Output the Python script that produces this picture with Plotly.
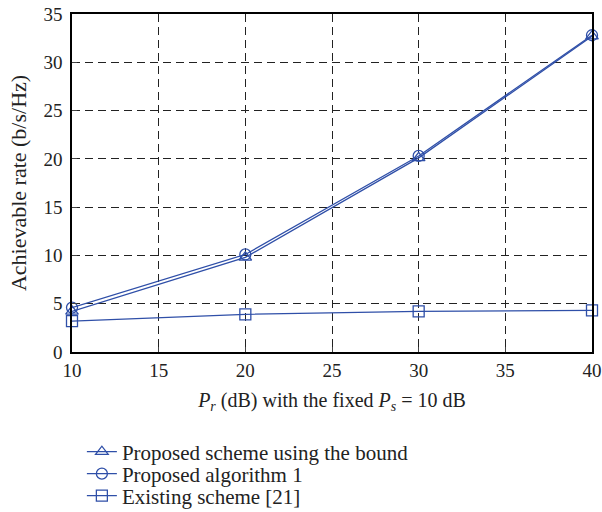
import plotly.graph_objects as go

x = [10, 20, 30, 40]
bound = [4.2, 9.8, 20.1, 32.7]
alg1 = [4.6, 10.1, 20.3, 32.8]
existing = [3.2, 3.9, 4.2, 4.3]
names = ["Proposed scheme using the bound", "Proposed algorithm 1", "Existing scheme [21]"]
symbols = ["triangle-up-open", "circle-open", "square-open"]
color = "#2f4fa8"

legend_ids = ["legend", "legend2", "legend3"]
legend_y = [-0.296, -0.361, -0.426]

fig = go.Figure()
for y, sym, nm, lg in zip([bound, alg1, existing], symbols, names, legend_ids):
    fig.add_trace(go.Scatter(x=x, y=y, mode="lines+markers", name=nm, cliponaxis=False, legend=lg,
                             line=dict(color=color, width=1.3),
                             marker=dict(symbol=sym, size=11, color=color, line=dict(width=1.3, color=color))))

font = "Liberation Serif, Times New Roman, serif"
legend_style = dict(x=0.019, xanchor="left", yanchor="middle", font=dict(size=21),
                    bgcolor="rgba(0,0,0,0)")
axis_style = dict(showgrid=True, automargin=False, gridcolor="#222", griddash="8px,5px", gridwidth=1,
                  showline=True, linecolor="black", linewidth=1.5, mirror=True, ticks="inside",
                  ticklen=5, zeroline=False, ticklabeloverflow="allow", tickfont=dict(size=19))
fig.update_layout(
    width=602, height=512,
    margin=dict(l=72, r=10, t=14, b=160, autoexpand=False),
    paper_bgcolor="white", plot_bgcolor="white",
    font=dict(family=font, size=18, color="#222"),
    showlegend=True,
    legend=dict(y=legend_y[0], **legend_style),
    legend2=dict(y=legend_y[1], **legend_style),
    legend3=dict(y=legend_y[2], **legend_style),
    xaxis=dict(range=[10, 40], tickvals=[10, 15, 20, 25, 30, 35, 40], **axis_style,
               title=dict(text="<i>P<sub>r</sub></i> (dB) with the fixed <i>P<sub>s</sub></i> = 10 dB",
                          standoff=13, font=dict(size=20))),
    yaxis=dict(range=[0, 35], tickvals=[0, 5, 10, 15, 20, 25, 30, 35], ticklabelstandoff=4, **axis_style,
               title=dict(text="Achievable rate (b/s/Hz)", standoff=11, font=dict(size=22))),
)
fig.write_html("out.html", config={"displayModeBar": False},
               post_script="document.body.style.margin='0';")
